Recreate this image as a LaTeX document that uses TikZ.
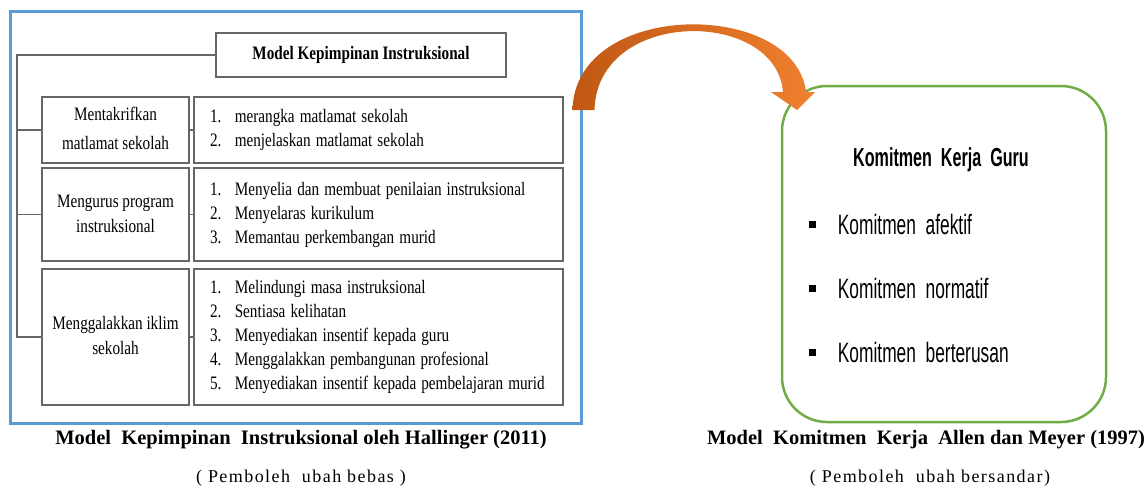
\documentclass[tikz,border=0pt]{standalone}
\usepackage{fontspec}
\setmainfont{Liberation Serif}
\newfontfamily\agency{Liberation Sans}
\newfontfamily\spaced{Liberation Serif}[LetterSpace=8]
\usetikzlibrary{positioning}
\usetikzlibrary{calc}
\definecolor{frameblue}{RGB}{91,155,213}
\definecolor{framegreen}{RGB}{112,173,71}
\definecolor{arrdark}{RGB}{192,88,20}
\definecolor{arrlight}{RGB}{240,128,46}
\newcommand{\sqz}[1]{\scalebox{0.8}[1]{#1}}
\newcommand{\agn}[1]{\scalebox{0.62}[1]{#1}}
\newcommand{\nr}[1]{\makebox[31pt][l]{#1.}}

\begin{document}
\begin{tikzpicture}[x=1pt,y=1pt,
  box/.style={draw=black!60, line width=1.6pt, inner sep=0pt, font=\fontsize{19}{25}\selectfont},
  lbox/.style={box, minimum width=147pt, align=center},
  rbox/.style={box, minimum width=369pt, text width=337pt, align=left, font=\fontsize{19}{24}\selectfont},
  conn/.style={draw=black!60, line width=1.6pt},
  bul/.style={fill=black, minimum size=7pt, inner sep=0pt},
  itm/.style={inner sep=0pt, font=\agency\fontsize{28}{30}\selectfont},
  captxt/.style={font=\bfseries\fontsize{20.5}{24}\selectfont},
  subtxt/.style={font=\spaced\fontsize{18}{22}\selectfont}]
\useasboundingbox (0,0) rectangle (1148,-490);

% frames
\node[draw=frameblue, line width=3pt, minimum width=571pt, minimum height=412pt, inner sep=0pt] (frameL) at (295.5,-217) {};
\node[draw=framegreen, line width=2.5pt, rounded corners=45pt, minimum width=324pt, minimum height=336pt, inner sep=0pt] (frameR) at (944,-254) {};

% model kepimpinan
\node[box, minimum width=290pt, minimum height=44pt, font=\bfseries\fontsize{19}{24}\selectfont] (title) at (361,-55) {\sqz{Model Kepimpinan Instruksional}};

\node[lbox, minimum height=66pt] (l1) at (115.5,-130) {\sqz{\begin{tabular}{c}Mentakrifkan\\[4pt]matlamat sekolah\end{tabular}}};
\node[lbox, minimum height=93pt] (l2) at (115.5,-214.5) {\sqz{\begin{tabular}{c}Mengurus program\\instruksional\end{tabular}}};
\node[lbox, minimum height=136pt] (l3) at (115.5,-337) {\sqz{\begin{tabular}{c}Menggalakkan iklim\\sekolah\end{tabular}}};

\node[rbox, minimum height=66pt] (r1) at (378.5,-130) {\sqz{\begin{tabular}{@{}l@{}}
  \nr1merangka matlamat sekolah\\
  \nr2menjelaskan matlamat sekolah\end{tabular}}};
\node[rbox, minimum height=93pt] (r2) at (378.5,-214.5) {\sqz{\begin{tabular}{@{}l@{}}
  \nr1Menyelia dan membuat penilaian instruksional\\
  \nr2Menyelaras kurikulum\\
  \nr3Memantau perkembangan murid\end{tabular}}};
\node[rbox, minimum height=136pt] (r3) at (378.5,-337) {\sqz{\begin{tabular}{@{}l@{}}
  \nr1Melindungi masa instruksional\\
  \nr2Sentiasa kelihatan\\
  \nr3Menyediakan insentif kepada guru\\
  \nr4Menggalakkan pembangunan profesional\\
  \nr5Menyediakan insentif kepada pembelajaran murid\end{tabular}}};

\coordinate (trunk) at (17,-55);
\draw[conn] (title.west) -- (trunk) |- (l3.west);
\foreach \i in {1,2}
  \draw[conn] (l\i.west -| trunk) -- (l\i.west);
\foreach \i in {1,2,3}
  \draw[conn] (l\i.east) -- (r\i.west);

% curved arrow
\coordinate (arrS) at (frameL.east |- 0,-110);
\coordinate (arrE) at (797,-110);
\shade[left color=arrdark, right color=arrlight]
  ($(arrS)+(-10,0)$) .. controls (575,1) and (795,1) .. (806,-92) -- (815,-92)
  -- (arrE) -- (771,-92) -- (783,-92) .. controls (776,-8) and (597,-8) .. ($(arrS)+(12,0)$) -- cycle;

% komitmen kerja
\node[font=\agency\bfseries\fontsize{26}{30}\selectfont] (kguru) at (941,-160) {\agn{Komitmen\ \ Kerja\ \ Guru}};
\foreach \yy/\txt [count=\i] in {224/afektif, 288/normatif, 352/berterusan} {
  \node[bul] (b\i) at (812,-\yy) {};
  \node[itm, right=22pt of b\i] (k\i) {\agn{Komitmen\ \ \txt}};
}

% captions
\node[captxt] (capL) at (301,-440) {Model\ \ Kepimpinan\ \ Instruksional oleh Hallinger (2011)};
\node[subtxt] (subL) at (301,-478) {( Pemboleh\ \ ubah bebas )};
\node[captxt] (capR) at (926,-440) {Model\ \ Komitmen\ \ Kerja\ \ Allen dan Meyer (1997)};
\node[subtxt] (subR) at (930,-478) {( Pemboleh\ \ ubah bersandar)};
\end{tikzpicture}
\end{document}
